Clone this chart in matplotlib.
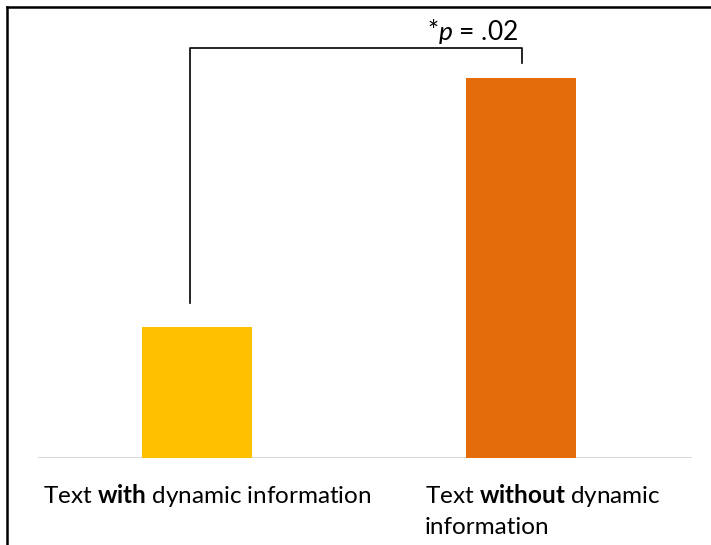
import matplotlib.pyplot as plt
from matplotlib.lines import Line2D

# chart values (arbitrary units, no y axis shown)
categories = ['with', 'without']
values = [1.31, 3.80]
bar_colors = ['#FFC000', '#E46C0A']
p_label = '*$\\it{p}$ = .02'

plt.rcParams['font.family'] = ['Lato', 'DejaVu Sans']
plt.rcParams['mathtext.fontset'] = 'custom'
plt.rcParams['mathtext.it'] = 'Lato:italic'
plt.rcParams['mathtext.rm'] = 'Lato'
plt.rcParams['mathtext.bf'] = 'Lato:bold'

fig = plt.figure(figsize=(7.11, 5.45), dpi=100)
ax = fig.add_axes([38 / 711, 87 / 545, 654 / 711, 451 / 545])

x = list(range(len(categories)))
ax.bar(x, values, width=0.34, color=bar_colors, zorder=2)
ax.set_xlim(-0.493, 1.529)
ax.set_ylim(0, 4.51)

# light baseline
ax.axhline(0, color='#D9D9D9', lw=1.5, zorder=1)
for s in ax.spines.values():
    s.set_visible(False)
ax.set_xticks([])
ax.set_yticks([])

# significance bracket
ax.plot([-0.023, -0.023, 1.003, 1.003], [1.55, 4.10, 4.10, 3.95],
        color='black', lw=1.2, clip_on=False)
ax.text(0.85, 4.18, p_label, ha='center', va='baseline', fontsize=19)

# category labels with bold keyword
fig.text(43 / 711, 1 - 503 / 545, 'Text $\\bf{with}$ dynamic information',
         fontsize=17.5, ha='left', va='baseline')
fig.text(425 / 711, 1 - 503 / 545, 'Text $\\bf{without}$ dynamic',
         fontsize=17.5, ha='left', va='baseline')
fig.text(425 / 711, 1 - 534 / 545, 'information',
         fontsize=17.5, ha='left', va='baseline')

# outer frame (top and left edges only)
fig.add_artist(Line2D([7 / 711, 7 / 711], [0, 1 - 7 / 545], color='black', lw=1.8))
fig.add_artist(Line2D([7 / 711, 1], [1 - 7 / 545, 1 - 7 / 545], color='black', lw=1.8))

fig.savefig('out.png', dpi=100)
